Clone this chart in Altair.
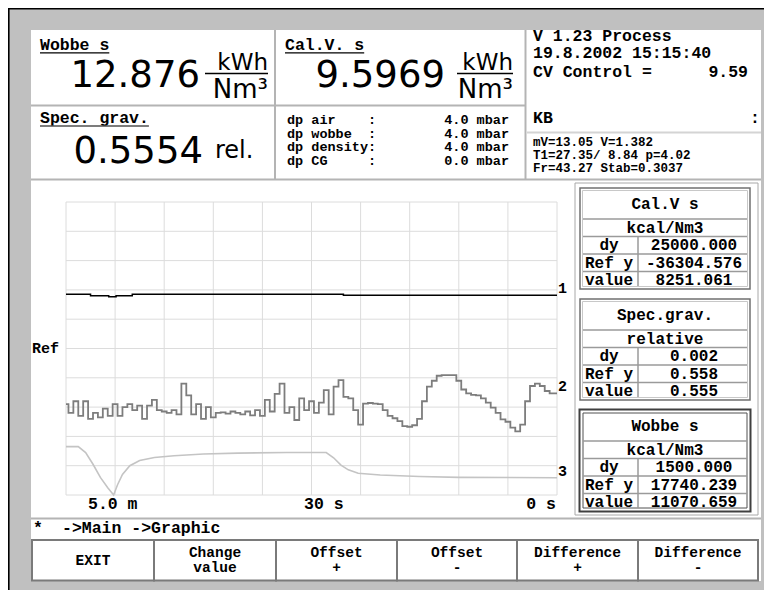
import altair as alt
import pandas as pd

NB = "\u00a0"


def nb(s):
    return s.replace(" ", NB)

# ---------------- data ----------------
title_wobbe = "Wobbe s"
title_calv = "Cal.V. s"
title_sg = "Spec. grav."
value_wobbe = "12.876"
value_calv = "9.5969"
value_sg = "0.5554"
unit_num = "kWh"
unit_den = "Nm³"
unit_sg = "rel."

dp_names = ["dp air", "dp wobbe", "dp density", "dp CG"]
dp_values = [4.0, 4.0, 4.0, 0.0]
dp_unit = "mbar"

info_lines = ["V 1.23 Process", "19.8.2002 15:15:40"]
cv_label = "CV Control ="
cv_value = "9.59"
kb_label = "KB"
meas_lines = ["mV=13.05 V=1.382", "T1=27.35/ 8.84 p=4.02", "Fr=43.27 Stab=0.3037"]

box_titles = ["Cal.V s", "Spec.grav.", "Wobbe s"]
box_units = ["kcal/Nm3", "relative", "kcal/Nm3"]
row_labels = ["dy", "Ref y", "value"]
box_dy = ["25000.000", "0.002", "1500.000"]
box_ref = ["-36304.576", "0.558", "17740.239"]
box_val = ["8251.061", "0.555", "11070.659"]

x_ticks = ["5.0 m", "30 s", "0 s"]
ref_label = "Ref"
series_names = ["1", "2", "3"]
status_star = "*"
status_path = "->Main ->Graphic"
btn_top = ["EXIT", "Change", "Offset", "Offset", "Difference", "Difference"]
btn_bot = ["", "value", "+", "-", "+", "-"]

# series in grid divisions (x 0..10 from 5.0 m ago to 0 s, y 0..10 from bottom)
line1_x = [0, 0.5, 0.87, 1.02, 1.35, 5.65, 10]
line1_y = [6.85, 6.80, 6.77, 6.80, 6.85, 6.82, 6.82]

line2_y = [
    3.10, 2.80, 3.20, 2.70, 3.20, 2.60, 2.80, 2.65, 2.95, 2.70,
    3.10, 2.70, 3.00, 3.10, 2.90, 3.05, 2.60, 3.05, 3.25, 2.90,
    2.85, 2.80, 2.90, 2.75, 3.80, 3.40, 2.75, 3.10, 2.60, 3.00,
    2.65, 2.80, 2.82, 2.78, 2.85, 2.80, 2.75, 2.85, 2.72, 2.90,
    2.70, 3.25, 2.85, 3.45, 3.80, 2.80, 3.00, 2.56, 3.30, 2.90,
    3.20, 2.80, 3.15, 3.58, 2.75, 3.70, 3.92, 3.35, 3.30, 2.90,
    2.40, 3.12, 3.14, 3.12, 3.10, 2.90, 2.70, 2.62, 2.52, 2.35,
    2.33, 2.38, 2.60, 3.20, 3.70, 3.90, 4.07, 4.09, 4.09, 4.09,
    3.90, 3.60, 3.47, 3.42, 3.40, 3.30, 3.15, 2.98, 2.80, 2.58,
    2.50, 2.30, 2.17, 2.40, 3.20, 3.72, 3.80, 3.72, 3.55, 3.47,
    3.47,
]
line2_x = [i / 10 for i in range(len(line2_y))]

line3_x = [0, 0.25, 0.4, 0.55, 0.7, 0.85, 0.97, 1.05, 1.15, 1.3, 1.5, 1.8, 2.2,
           2.8, 3.5, 4.5, 5.3, 5.45, 5.6, 5.75, 5.95, 6.4, 7.2, 8.0, 10]
line3_y = [1.65, 1.65, 1.45, 1.05, 0.6, 0.25, 0.0, 0.35, 0.7, 1.0, 1.18, 1.28, 1.34,
           1.40, 1.43, 1.45, 1.45, 1.27, 1.02, 0.86, 0.74, 0.68, 0.63, 0.60, 0.59]

# ---------------- layout helpers ----------------
W, H = 756, 582
MONO = "Liberation Mono"
SANS = "DejaVu Sans"
XS = alt.Scale(domain=[8, 8 + W], range=[0, W], nice=False, zero=False)
YS = alt.Scale(domain=[8, 8 + H], range=[0, H], nice=False, zero=False)


def rects(rows, **mk):
    df = pd.DataFrame(rows, columns=["x", "x2", "y", "y2"])
    return alt.Chart(df).mark_rect(**mk).encode(
        x=alt.X("x:Q", scale=XS, axis=None), x2="x2:Q",
        y=alt.Y("y:Q", scale=YS, axis=None), y2="y2:Q")


def hrules(rows, color, w):
    df = pd.DataFrame(rows, columns=["x", "x2", "y"])
    return alt.Chart(df).mark_rule(color=color, strokeWidth=w).encode(
        x=alt.X("x:Q", scale=XS, axis=None), x2="x2:Q",
        y=alt.Y("y:Q", scale=YS, axis=None))


def vrules(rows, color, w):
    df = pd.DataFrame(rows, columns=["x", "y", "y2"])
    return alt.Chart(df).mark_rule(color=color, strokeWidth=w).encode(
        x=alt.X("x:Q", scale=XS, axis=None),
        y=alt.Y("y:Q", scale=YS, axis=None), y2="y2:Q")


def texts(rows, align="left", font=MONO, size=16.5, weight="bold", color="black"):
    df = pd.DataFrame([(x, y, nb(t)) for x, y, t in rows], columns=["x", "y", "t"])
    return alt.Chart(df).mark_text(align=align, baseline="alphabetic", font=font,
                                   fontSize=size, fontWeight=weight, color=color).encode(
        x=alt.X("x:Q", scale=XS, axis=None), y=alt.Y("y:Q", scale=YS, axis=None),
        text="t:N")


ui = []
# bezel and white screen
ui.append(rects([(8, 9.6, 8, 8 + H), (8, 8 + W, 8, 9.6)], color="black"))
ui.append(rects([(31, 761, 30, 581)], color="white"))

# panel separators
SEP = "#b4b4b4"
ui.append(hrules([(31, 525, 105.5), (31, 761, 179.5), (31, 761, 518.5)], SEP, 2))
ui.append(vrules([(275, 30, 179), (525.5, 30, 179)], SEP, 2))
ui.append(hrules([(527, 761, 132.5)], "#d4d4d4", 2))

# header titles + underlines
CW = 9.9
ui.append(texts([(40, 49.5, title_wobbe), (285, 49.5, title_calv), (40, 123, title_sg)]))
ui.append(hrules([(40, 40 + len(title_wobbe) * CW, 52.8),
                  (285, 285 + len(title_calv) * CW, 52.8)], "black", 1.3))
ui.append(hrules([(40, 40 + len(title_sg) * CW, 126)], "#505050", 1.3))

# big values and units
ui.append(texts([(200, 87, value_wobbe), (445, 87, value_calv), (203, 163, value_sg)],
                align="right", font=SANS, size=37, weight="normal"))
ui.append(texts([(268, 70, unit_num), (513, 70, unit_num)], align="right", font=SANS,
                size=23, weight="normal"))
ui.append(texts([(268, 98, unit_den), (513, 98, unit_den)], align="right", font=SANS,
                size=26, weight="normal"))
ui.append(hrules([(205, 268, 73.5), (457, 513, 73.5)], "black", 1.5))
ui.append(texts([(215, 158, unit_sg)], font=SANS, size=24, weight="normal"))

# dp block: name column and value column
dp_y = [124, 137.5, 151, 165]
ui.append(texts([(287, dp_y[i], f"{n:<10}:") for i, n in enumerate(dp_names)], size=13.5))
ui.append(texts([(509, dp_y[i], f"{v:.1f} {dp_unit}") for i, v in enumerate(dp_values)],
                align="right", size=13.5))

# info block
ui.append(texts([(533, 40.5, info_lines[0]), (533, 58.3, info_lines[1]),
                 (533, 76.7, cv_label), (533, 123.3, kb_label)]))
ui.append(texts([(748, 76.7, cv_value), (760, 123.3, ":")], align="right"))
ui.append(texts([(533, [145.8, 158.8, 171.8][i], s) for i, s in enumerate(meas_lines)],
                size=12.5))

# graph texts
ui.append(texts([(32, 353, ref_label)], size=15))
ui.append(texts([(88, 508.5, x_ticks[0]), (304, 508.5, x_ticks[1])]))
ui.append(texts([(556, 508.5, x_ticks[2])], align="right"))

# right column boxes
ui.append(rects([(575, 758, 183, 515)], fillOpacity=0, stroke="#a8a8a8", strokeWidth=1))
tops = [188, 299, 410]
ui.append(rects([(580, 750, t, t + 101) for t in tops[:2]], fillOpacity=0,
                stroke="#707070", strokeWidth=1.5))
ui.append(rects([(582.5, 747.5, t + 2.5, t + 98.5) for t in tops[:2]], fillOpacity=0,
                stroke="#c8c8c8", strokeWidth=1))
ui.append(rects([(579.5, 750.5, tops[2] - 0.5, tops[2] + 101.5)], fillOpacity=0,
                stroke="#404040", strokeWidth=2))
ui.append(rects([(583, 747, tops[2] + 3, tops[2] + 98)], fillOpacity=0,
                stroke="#505050", strokeWidth=1))
row_lines = []
col_lines = []
for t in tops:
    for off in [31, 48.5, 66, 83.5]:
        row_lines.append((583, 747, t + off))
    col_lines.append((638, t + 48.5, t + 98))
ui.append(hrules(row_lines, "#9a9a9a", 1.5))
ui.append(vrules(col_lines, "#9a9a9a", 1.5))

center_rows = []
label_rows = []
value_rows = []
for b, t in enumerate(tops):
    center_rows.append((665, t + 20.5, box_titles[b]))
    center_rows.append((665, t + 44.5, box_units[b]))
    for r, lab in enumerate(row_labels):
        label_rows.append((609, t + 62 + 17.5 * r, lab))
    vals = [box_dy[b], box_ref[b], box_val[b]]
    for r, v in enumerate(vals):
        s = v.rjust(7) if len(v) < 7 else v
        value_rows.append((694, t + 62 + 17.5 * r, s))
ui.append(texts(center_rows + label_rows + value_rows, align="center", size=16))

# status line
ui.append(texts([(33, 533, status_star), (62, 533, status_path)]))

# buttons
edges = [32, 154, 276, 397, 517, 638, 758]
ui.append(rects([(edges[i], edges[i + 1], 540, 580.5) for i in range(6)], color="white",
                stroke="#7a7a7a", strokeWidth=2))
btn_rows = []
for i in range(6):
    cx = (edges[i] + edges[i + 1]) / 2
    if btn_bot[i]:
        btn_rows.append((cx, 556.5, btn_top[i]))
        btn_rows.append((cx, 571.5, btn_bot[i]))
    else:
        btn_rows.append((cx, 564.5, btn_top[i]))
ui.append(texts(btn_rows, align="center", size=14.5))

ui_layer = alt.layer(*ui)

# ---------------- graph ----------------
GX = alt.Scale(domain=[0, 10], range=[58, 549], nice=False, zero=False)
GY = alt.Scale(domain=[0, 10], range=[487, 194], nice=False, zero=False)

grid_df = pd.DataFrame({"g": list(range(11)), "lo": 0, "hi": 10})
vgrid = alt.Chart(grid_df).mark_rule(color="#dcdcdc", strokeWidth=1).encode(
    x=alt.X("g:Q", scale=GX, axis=None), y=alt.Y("lo:Q", scale=GY, axis=None), y2="hi:Q")
hgrid = alt.Chart(grid_df).mark_rule(color="#dcdcdc", strokeWidth=1).encode(
    y=alt.Y("g:Q", scale=GY, axis=None), x=alt.X("lo:Q", scale=GX, axis=None), x2="hi:Q")


def series(xs, ys, color, w, interp):
    df = pd.DataFrame({"gx": xs, "gy": ys})
    return alt.Chart(df).mark_line(color=color, strokeWidth=w, interpolate=interp).encode(
        x=alt.X("gx:Q", scale=GX, axis=None), y=alt.Y("gy:Q", scale=GY, axis=None))


l3 = series(line3_x, line3_y, "#c4c4c4", 1.6, "linear")
l2 = series(line2_x, line2_y, "#7d7d7d", 1.8, "step")
l1 = series(line1_x, line1_y, "black", 1.5, "step-after")

lab_df = pd.DataFrame({"gx": [10, 10, 10],
                       "gy": [line1_y[-1], line2_y[-1], line3_y[-1]],
                       "t": series_names})
labels = alt.Chart(lab_df).mark_text(align="left", baseline="middle", dx=1, dy=-7,
                                     font=MONO, fontSize=15, fontWeight="bold",
                                     color="black").encode(
    x=alt.X("gx:Q", scale=GX, axis=None), y=alt.Y("gy:Q", scale=GY, axis=None), text="t:N")

graph_layer = alt.layer(vgrid, hgrid, l3, l2, l1, labels)

chart = alt.layer(ui_layer, graph_layer).resolve_scale(
    x="independent", y="independent"
).properties(
    width=W, height=H, padding=0, autosize=alt.AutoSizeParams(type="none"),
    background="#c0c0c0"
).configure_view(stroke="transparent")

chart.save("out.html", embed_options={"renderer": "svg", "actions": False})
